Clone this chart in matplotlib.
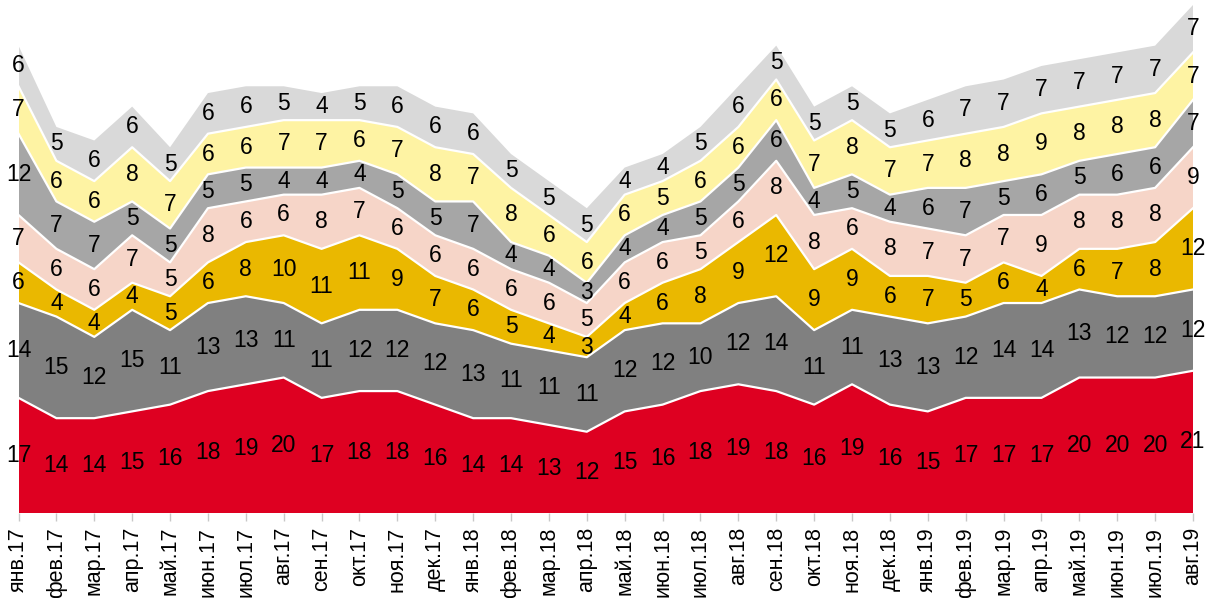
import matplotlib
matplotlib.use("Agg")
import matplotlib.pyplot as plt
import numpy as np

plt.rcParams['font.family'] = ['Liberation Sans', 'DejaVu Sans']

months = ["янв.17", "фев.17", "мар.17", "апр.17", "май.17", "июн.17", "июл.17", "авг.17",
          "сен.17", "окт.17", "ноя.17", "дек.17", "янв.18", "фев.18", "мар.18", "апр.18",
          "май.18", "июн.18", "июл.18", "авг.18", "сен.18", "окт.18", "ноя.18", "дек.18",
          "янв.19", "фев.19", "мар.19", "апр.19", "май.19", "июн.19", "июл.19", "авг.19"]

red =        [17, 14, 14, 15, 16, 18, 19, 20, 17, 18, 18, 16, 14, 14, 13, 12, 15, 16, 18, 19, 18, 16, 19, 16, 15, 17, 17, 17, 20, 20, 20, 21]
dark_gray =  [14, 15, 12, 15, 11, 13, 13, 11, 11, 12, 12, 12, 13, 11, 11, 11, 12, 12, 10, 12, 14, 11, 11, 13, 13, 12, 14, 14, 13, 12, 12, 12]
gold =       [6, 4, 4, 4, 5, 6, 8, 10, 11, 11, 9, 7, 6, 5, 4, 3, 4, 6, 8, 9, 12, 9, 9, 6, 7, 5, 6, 4, 6, 7, 8, 12]
pink =       [7, 6, 6, 7, 5, 8, 6, 6, 8, 7, 6, 6, 6, 6, 6, 5, 6, 6, 5, 6, 8, 8, 6, 8, 7, 7, 7, 9, 8, 8, 8, 9]
gray =       [12, 7, 7, 5, 5, 5, 5, 4, 4, 4, 5, 5, 7, 4, 4, 3, 4, 4, 5, 5, 6, 4, 5, 4, 6, 7, 5, 6, 5, 6, 6, 7]
yellow =     [7, 6, 6, 8, 7, 6, 6, 7, 7, 6, 7, 8, 7, 8, 6, 6, 6, 5, 6, 6, 6, 7, 8, 7, 7, 8, 8, 9, 8, 8, 8, 7]
light_gray = [6, 5, 6, 6, 5, 6, 6, 5, 4, 5, 6, 6, 6, 5, 5, 5, 4, 4, 5, 6, 5, 5, 5, 5, 6, 7, 7, 7, 7, 7, 7, 7]

series = [red, dark_gray, gold, pink, gray, yellow, light_gray]
colors = ["#DE0021", "#808080", "#EAB800", "#F6D5C8", "#A6A6A6", "#FEF3A3", "#D9D9D9"]

fig = plt.figure(figsize=(12.13, 5.98), dpi=100)
ax = fig.add_axes([18.5 / 1213, 85 / 598, (1193 - 18.5) / 1213, (513 - 5) / 598])

x = np.arange(len(months))
data = np.array(series, dtype=float)
totals = data.sum(axis=0)
bottom = np.zeros(len(months))
for vals, col in zip(data, colors):
    top = bottom + vals
    ax.fill_between(x, bottom, top, facecolor=col, edgecolor="none", zorder=1)
    bottom = top

# white separators
cum = np.cumsum(data, axis=0)
for row in cum[:-1]:
    ax.plot(x, row, color="white", lw=1.6, zorder=2)

# labels
bottom = np.zeros(len(months))
for vals in data:
    for i, v in enumerate(vals):
        ax.text(x[i], bottom[i] + v / 2, f"{int(v)}", ha="center", va="center",
                fontsize=16.5, color="black", zorder=3)
    bottom = bottom + vals

ax.set_xlim(0, len(months) - 1)
ax.set_ylim(0, totals.max())
ax.set_xticks(x)
ax.set_xticklabels(months, rotation=90, fontsize=15.5)
ax.tick_params(axis="x", length=6, width=1, color="#C8C8C8", pad=4)
ax.set_yticks([])
for s in ax.spines.values():
    s.set_visible(False)

fig.savefig("out.png", dpi=100)
